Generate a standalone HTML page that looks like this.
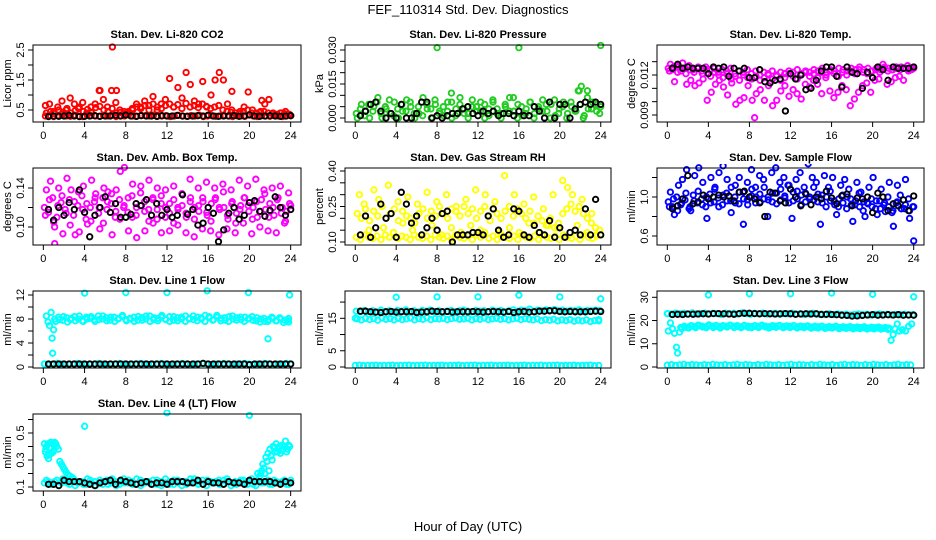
<!DOCTYPE html>
<html><head><meta charset="utf-8">
<style>
html,body{margin:0;padding:0;background:#fff;}
svg{display:block;font-family:"Liberation Sans",sans-serif;}
</style></head>
<body>
<svg id="chart" width="936" height="540" viewBox="0 0 936 540">
<text x="468" y="14" text-anchor="middle" font-size="13">FEF_110314  Std. Dev. Diagnostics</text>
<text x="468" y="531" text-anchor="middle" font-size="13">Hour of Day (UTC)</text>
</svg>
<script>
// ---------- data ----------
const xTicks = [0,4,8,12,16,20,24];
const xTickLabels = ["0","4","8","12","16","20","24"];

// CO2
const co2Band = [0.3,0.32,0.28,0.31,0.35,0.3,0.29,0.33,0.3,0.28,0.34,0.31,0.3,0.29,0.32,0.3,0.33,0.28,0.31,0.3,0.35,0.3,0.29,0.32,0.31,0.3,0.33,0.29,0.3,0.31,0.28,0.3,0.32,0.3,0.29,0.31,0.3,0.33,0.28,0.3,0.31,0.29,0.3,0.32,0.3,0.28,0.31,0.3,0.29,0.33,0.3,0.28,0.31,0.3,0.29,0.32,0.3,0.28,0.3,0.31];
const co2Mid = [0.4,0.45,0.38,0.5,0.42,0.55,0.4,0.48,0.6,0.45,0.52,0.4,0.58,0.62,0.5,0.45,0.55,0.4,0.42,0.38,0.45,0.5,0.6,0.55,0.65,0.5,0.7,0.6,0.55,0.65,0.7,0.6,0.68,0.55,0.72,0.6,0.65,0.58,0.7,0.62,0.55,0.6,0.65,0.5,0.45,0.42,0.4,0.38,0.45,0.5,0.4,0.38,0.42,0.45,0.4,0.38,0.35,0.4,0.38,0.36];
const co2Scatter = [0.65,0.7,0.45,0.6,0.8,0.5,0.9,0.7,0.55,0.75,0.4,0.6,0.7,1.15,0.85,0.6,1.15,0.75,0.5,0.45,0.4,0.55,0.7,0.6,0.8,0.65,0.95,0.5,0.7,0.85,1.55,0.6,1.25,0.9,1.75,1.35,0.8,0.7,1.45,0.6,1.0,1.5,1.75,1.5,0.7,0.5,0.4,0.45,0.6,1.1,0.5,0.4,0.45,0.7,0.85,0.4,0.35,0.4,0.45,0.35];
const co2OutX = [6.7,5.5,7.1,18.3,21.2];
const co2OutY = [2.6,1.15,1.15,1.12,0.82];
const co2Black = [0.28,0.3,0.29,0.3,0.32,0.3,0.28,0.29,0.3,0.31,0.29,0.3,0.3,0.32,0.3,0.33,0.3,0.29,0.31,0.3,0.3,0.29,0.31,0.3,0.3,0.32,0.3,0.29,0.3,0.31,0.3,0.33,0.3,0.29,0.3,0.3,0.31,0.29,0.3,0.34,0.3,0.29,0.3,0.31,0.3,0.29,0.3,0.31];

// Pressure
const pBand = [0.002,0.004,0.001,0.006,0.003,0.007,0.002,0.005,0.008,0.001,0.004,0.006,0.003,0.007,0.002,0.005,0.001,0.006,0.004,0.008,0.002,0.005,0.003,0.007,0.001,0.006,0.004,0.002,0.008,0.005,0.003,0.006,0.001,0.007,0.004,0.002,0.005,0.009,0.003,0.006,0.001,0.004,0.007,0.002,0.005,0.008,0.003,0.006,0.001,0.004,0.007,0.002,0.005,0.003,0.006,0.001,0.004,0.007,0.003,0.005];
const pBand2 = [0.0,0.006,0.003,0.0,0.005,0.009,0.0,0.004,0.002,0.007,0.0,0.003,0.008,0.005,0.0,0.002,0.009,0.004,0.0,0.006,0.003,0.001,0.007,0.0,0.004,0.009,0.002,0.0,0.005,0.003,0.007,0.0,0.004,0.008,0.002,0.0,0.006,0.003,0.009,0.0,0.005,0.002,0.007,0.0,0.004,0.003,0.006,0.0,0.008,0.002,0.005,0.0,0.007,0.003,0.012,0.0,0.009,0.004,0.006,0.002];
const pOutX = [8,16,24,21.8,22.1,22.7,9.4];
const pOutY = [0.031,0.031,0.032,0.012,0.014,0.012,0.011];
const pBlack = [0.001,0.003,0.006,0.007,0.003,0.0,0.002,0.0,0.006,0.0,0.0,0.002,0.007,0.007,0.0,0.001,0.0,0.001,0.002,0.002,0.004,0.005,0.002,0.001,0.003,0.002,0.003,0.001,0.002,0.002,0.001,0.003,0.001,0.001,0.005,0.003,0.0,0.007,0.0,0.006,0.006,0.0,0.004,0.006,0.007,0.006,0.007,0.006];

// Li-820 Temp
const tBand = [0.0125,0.0124,0.0126,0.0123,0.0125,0.0127,0.0124,0.0125,0.0123,0.0126,0.0124,0.0125,0.0122,0.0124,0.0123,0.0125,0.0121,0.0123,0.0122,0.0124,0.0121,0.0123,0.012,0.0122,0.0121,0.0123,0.012,0.0122,0.0121,0.0123,0.0122,0.0124,0.0121,0.0123,0.0122,0.0124,0.0123,0.0125,0.0122,0.0124,0.0123,0.0125,0.0124,0.0123,0.0125,0.0124,0.0126,0.0124,0.0125,0.0123,0.0125,0.0124,0.0126,0.0125,0.0124,0.0125,0.0126,0.0125,0.0124,0.0125];
const tBand2 = [0.0123,0.0126,0.0122,0.0125,0.0121,0.0124,0.0122,0.0126,0.0121,0.0124,0.0119,0.0122,0.012,0.0118,0.0121,0.0117,0.0119,0.0116,0.012,0.0118,0.0117,0.0119,0.0116,0.0118,0.012,0.0117,0.0119,0.0116,0.0118,0.0121,0.0119,0.0117,0.012,0.0122,0.0119,0.0121,0.0118,0.0122,0.012,0.0123,0.0121,0.0119,0.0122,0.012,0.0123,0.0121,0.0124,0.0122,0.0121,0.0123,0.0124,0.0122,0.0125,0.0123,0.0124,0.0126,0.0124,0.0125,0.0123,0.0125];
const tScatter = [0.0128,0.0115,0.0127,0.0129,0.0113,0.0116,0.0112,0.0114,0.0117,0.0101,0.0107,0.0113,0.0116,0.0111,0.0105,0.0114,0.0098,0.0101,0.0103,0.0112,0.0101,0.0106,0.0109,0.0101,0.0112,0.0097,0.0101,0.0108,0.0112,0.0104,0.0109,0.0106,0.0102,0.0113,0.0111,0.0116,0.0113,0.0106,0.0118,0.0108,0.0103,0.0107,0.0112,0.0109,0.0097,0.0102,0.0107,0.0112,0.0114,0.0107,0.0116,0.0117,0.0128,0.0113,0.0115,0.0118,0.0119,0.0116,0.0127,0.0124];
const tOutX = [8.5];
const tOutY = [0.0088];
const tBlack = [0.0125,0.0128,0.0125,0.0126,0.0125,0.0125,0.0125,0.0121,0.0126,0.0125,0.0126,0.0119,0.0125,0.0123,0.0125,0.0118,0.0118,0.0124,0.0115,0.0114,0.0116,0.0117,0.0093,0.0121,0.0117,0.012,0.0109,0.011,0.0116,0.0123,0.0126,0.0126,0.0119,0.0111,0.0126,0.0122,0.0121,0.011,0.0122,0.0118,0.0126,0.0124,0.0116,0.0126,0.0125,0.0125,0.0125,0.0126];

// Amb Box Temp
const aBand = [0.12,0.115,0.13,0.11,0.125,0.118,0.128,0.112,0.122,0.132,0.108,0.12,0.126,0.114,0.13,0.118,0.124,0.11,0.128,0.12,0.115,0.132,0.112,0.122,0.126,0.118,0.13,0.108,0.124,0.12,0.114,0.128,0.118,0.122,0.11,0.13,0.12,0.116,0.126,0.112,0.124,0.13,0.118,0.12,0.108,0.126,0.114,0.122,0.13,0.116,0.12,0.11,0.128,0.118,0.124,0.112,0.13,0.12,0.116,0.122];
const aBand2 = [0.112,0.128,0.105,0.122,0.132,0.114,0.102,0.126,0.136,0.118,0.124,0.106,0.13,0.12,0.104,0.126,0.134,0.116,0.108,0.122,0.13,0.11,0.12,0.135,0.116,0.106,0.128,0.118,0.132,0.11,0.124,0.104,0.12,0.134,0.114,0.126,0.108,0.122,0.13,0.115,0.106,0.128,0.12,0.136,0.112,0.124,0.104,0.118,0.13,0.122,0.108,0.126,0.116,0.134,0.11,0.12,0.128,0.114,0.106,0.124];
const aScatter = [0.138,0.147,0.1,0.14,0.093,0.15,0.138,0.092,0.095,0.142,0.103,0.148,0.134,0.098,0.14,0.136,0.092,0.138,0.157,0.161,0.096,0.144,0.089,0.142,0.096,0.148,0.104,0.14,0.094,0.138,0.096,0.142,0.102,0.134,0.094,0.149,0.09,0.14,0.098,0.146,0.096,0.14,0.092,0.144,0.098,0.138,0.094,0.148,0.104,0.142,0.093,0.149,0.1,0.138,0.096,0.14,0.094,0.142,0.104,0.135];
const aOutX = [1.1];
const aOutY = [0.083];
const aBlack = [0.118,0.107,0.12,0.112,0.125,0.118,0.138,0.115,0.09,0.112,0.12,0.131,0.115,0.124,0.11,0.11,0.113,0.124,0.122,0.128,0.112,0.124,0.112,0.118,0.11,0.112,0.133,0.113,0.118,0.102,0.104,0.12,0.114,0.085,0.097,0.114,0.12,0.108,0.112,0.125,0.127,0.116,0.111,0.117,0.131,0.12,0.112,0.118];

// Gas stream RH
const rLow = [0.12,0.11,0.13,0.12,0.115,0.125,0.11,0.13,0.12,0.14,0.115,0.125,0.12,0.11,0.13,0.12,0.115,0.125,0.11,0.13,0.12,0.115,0.125,0.11,0.13,0.12,0.115,0.125,0.11,0.13,0.12,0.14,0.115,0.125,0.11,0.13,0.12,0.115,0.125,0.11,0.13,0.12,0.115,0.125,0.11,0.13,0.12,0.115,0.125,0.11,0.13,0.12,0.115,0.125,0.11,0.13,0.12,0.115,0.125,0.13];
const rMid = [0.22,0.2,0.24,0.19,0.23,0.21,0.25,0.2,0.22,0.24,0.19,0.23,0.21,0.2,0.18,0.22,0.24,0.2,0.23,0.21,0.25,0.22,0.2,0.24,0.23,0.21,0.25,0.22,0.24,0.2,0.23,0.25,0.21,0.24,0.22,0.2,0.23,0.25,0.21,0.24,0.22,0.2,0.23,0.18,0.21,0.19,0.17,0.2,0.16,0.18,0.22,0.24,0.26,0.23,0.25,0.22,0.2,0.18,0.16,0.15];
const rScatter = [0.3,0.26,0.15,0.32,0.28,0.16,0.34,0.14,0.27,0.18,0.29,0.15,0.26,0.13,0.31,0.17,0.27,0.13,0.3,0.16,0.25,0.14,0.28,0.17,0.32,0.15,0.3,0.19,0.27,0.14,0.38,0.16,0.3,0.14,0.26,0.18,0.29,0.14,0.24,0.17,0.3,0.16,0.36,0.33,0.3,0.17,0.28,0.14,0.22,0.13];
const rBlack = [0.13,0.21,0.12,0.16,0.26,0.2,0.22,0.12,0.31,0.26,0.18,0.21,0.13,0.16,0.2,0.15,0.22,0.23,0.1,0.13,0.13,0.13,0.14,0.14,0.13,0.21,0.24,0.15,0.12,0.13,0.24,0.23,0.13,0.12,0.17,0.14,0.13,0.19,0.12,0.16,0.12,0.14,0.15,0.13,0.24,0.13,0.28,0.13];

// Sample flow
const sBand = [0.95,0.9,1.0,0.92,0.97,0.88,1.02,0.94,0.98,0.9,1.03,0.95,0.99,0.92,1.04,0.96,1.0,0.93,1.05,0.97,1.01,0.94,1.03,0.98,1.0,0.95,1.04,0.97,1.01,0.94,1.05,0.98,1.02,0.95,1.0,0.97,1.03,0.94,1.0,0.96,0.92,0.98,0.94,1.0,0.92,0.96,0.9,0.95,0.93,0.9,0.96,0.88,0.94,0.9,0.86,0.95,0.88,0.92,0.86,0.9];
const sBand2 = [0.9,0.98,0.86,0.94,1.04,0.9,0.96,1.06,0.92,1.0,0.94,1.08,0.9,1.02,0.96,1.1,0.94,1.05,0.98,0.92,1.08,1.0,0.95,1.1,0.97,1.04,0.93,1.08,0.99,1.12,0.96,1.06,0.92,1.04,0.98,1.1,0.95,1.02,0.9,1.06,0.96,0.9,1.02,0.88,0.98,0.92,1.04,0.86,0.94,0.98,0.88,0.96,0.92,1.0,0.84,0.94,1.02,0.88,0.98,0.9];
const sScatter = [1.05,0.82,1.12,1.18,1.28,0.86,1.22,1.3,1.15,0.78,1.2,1.1,1.25,1.32,1.18,0.84,1.12,1.2,0.72,1.15,1.28,1.1,1.22,1.18,0.8,1.25,1.3,1.15,1.2,1.12,0.78,1.18,1.25,1.1,1.34,1.2,1.15,0.72,1.22,1.1,1.2,0.82,1.12,1.18,1.08,0.75,1.15,1.05,0.8,1.1,1.2,0.82,1.08,0.85,1.15,0.7,1.12,0.88,1.18,0.78];
const sOutX = [24];
const sOutY = [0.55];
const sBlack = [0.88,0.91,0.98,1.22,0.93,0.95,1.02,0.98,1.0,1.02,1.0,1.01,0.96,1.05,1.06,1.0,0.98,0.94,0.8,1.05,1.04,0.96,0.94,1.08,1.0,0.91,1.03,0.92,1.0,0.98,1.06,0.99,0.93,1.01,1.03,0.91,0.99,0.98,1.0,0.84,1.04,1.0,0.86,0.93,0.91,0.97,0.86,1.01];

// Line 1 flow
const l1Band = [8.0,8.3,7.8,8.2,7.9,8.4,8.0,7.7,8.3,8.1,7.9,8.5,8.0,8.2,7.8,8.3,8.0,8.4,7.9,8.1,8.3,7.8,8.2,8.0,8.5,7.9,8.1,8.3,8.0,8.4,7.8,8.2,8.0,8.5,8.1,7.9,8.3,8.0,8.6,8.2,7.9,8.3,8.1,7.8,8.4,8.0,8.2,7.9,8.3,8.1,7.8,8.2,8.0,7.6,7.9,8.1,7.7,8.0,7.8,8.1];
const l1Band2 = [7.6,7.9,8.4,7.5,8.1,7.7,8.5,7.6,8.0,8.4,7.6,7.9,8.5,7.7,8.3,7.6,8.1,8.6,7.7,8.0,7.6,8.4,7.8,8.5,7.6,8.2,7.7,8.6,7.9,7.6,8.4,7.7,8.3,7.6,8.0,8.5,7.7,8.2,7.6,8.4,7.8,8.6,7.7,8.2,7.6,8.5,7.8,8.3,7.6,8.0,8.4,7.7,7.5,8.1,7.6,8.3,7.7,8.2,7.4,7.8];
const l1Low = [0.5,0.4,0.5,0.6,0.5,0.4,0.5,0.5,0.6,0.5,0.4,0.5,0.5,0.6,0.5,0.4,0.5,0.5,0.6,0.5,0.4,0.5,0.5,0.6,0.5,0.4,0.5,0.5,0.6,0.5,0.4,0.5,0.5,0.6,0.5,0.4,0.5,0.5,0.6,0.5,0.4,0.5,0.5,0.6,0.5,0.4,0.5,0.5,0.6,0.5,0.4,0.5,0.5,0.6,0.5,0.4,0.5,0.5,0.6,0.5];
const l1OutX = [4,8,12,15.9,19.9,23.9,0.3,0.45,0.6,0.75,0.85,1.0,21.8,23.8];
const l1OutY = [12.3,12.4,12.4,12.7,12.4,12.0,8.5,7.5,6.9,9.1,4.8,6.2,4.7,7.5];
const l1OutX2 = [0.9,0.1];
const l1OutY2 = [2.3,0.5];
const l1Black = [0.5,0.5,0.5,0.5,0.5,0.5,0.5,0.5,0.5,0.5,0.5,0.5,0.5,0.5,0.5,0.5,0.5,0.5,0.5,0.5,0.5,0.5,0.5,0.5,0.5,0.5,0.5,0.5,0.5,0.5,0.6,0.5,0.5,0.5,0.5,0.5,0.5,0.5,0.5,0.4,0.5,0.5,0.5,0.5,0.5,0.5,0.5,0.5];

// Line 2 flow
const l2Band = [14.8,14.5,15.0,14.6,14.9,14.4,15.1,14.7,14.9,14.5,15.0,14.6,14.8,15.1,14.5,14.9,14.7,15.2,14.6,14.9,14.8,15.0,14.6,14.9,15.1,14.7,14.8,15.0,14.5,14.9,14.7,15.1,14.6,14.8,15.0,14.7,14.9,14.5,14.8,15.0,14.6,14.9,14.7,14.5,14.8,14.3,14.6,14.4,14.7,14.2,14.5,14.3,14.6,14.1,14.4,14.2,14.5,14.0,14.3,14.6];
const l2Upper = [17.2,17.0,17.4,17.1,17.3,16.9,17.5,17.1,17.3,17.0,17.4,17.2,17.6,17.1,17.3,17.0,17.4,17.2,17.5,17.1,17.3,17.0,17.2,17.4,17.1,17.3,17.5,17.2,17.0,17.4,17.2,17.3,17.1,17.5,17.2,17.4,17.0,17.3,17.6,17.2,17.5,17.3,17.8,17.2,17.5,17.3,17.6,17.4,17.7,17.3,17.5,17.2,17.4,17.3,17.6,17.2,17.4,17.3,17.5,17.4];
const l2Low = [0.5,0.6,0.4,0.5,0.5,0.6,0.4,0.5,0.5,0.6,0.4,0.5,0.5,0.6,0.4,0.5,0.5,0.6,0.4,0.5,0.5,0.6,0.4,0.5,0.5,0.6,0.4,0.5,0.5,0.6,0.4,0.5,0.5,0.6,0.4,0.5,0.5,0.6,0.4,0.5,0.5,0.6,0.4,0.5,0.5,0.6,0.4,0.5,0.5,0.6,0.4,0.5,0.5,0.6,0.4,0.5,0.5,0.6,0.4,0.5];
const l2OutX = [4,8,12,16,20,24,0,23.8];
const l2OutY = [21.5,21.6,21.6,22.1,21.6,21.0,15.0,14.2];
const l2Black = [17.2,17.2,17.0,16.9,16.8,17.0,17.1,16.9,17.0,17.0,17.1,16.8,16.9,17.0,17.2,17.1,17.0,17.1,16.9,17.0,17.0,17.0,17.1,17.0,16.9,17.0,17.1,17.0,16.9,17.1,16.8,17.0,17.1,16.9,17.0,17.2,17.2,17.3,17.3,17.1,17.0,17.1,17.0,17.0,17.0,17.1,17.2,17.1];

// Line 3 flow
const l3Top = [23.0,22.8,23.2,22.9,23.1,22.7,23.3,22.9,23.0,23.2,22.8,23.1,23.0,22.6,23.2,22.9,23.1,22.8,23.3,23.0,22.7,23.1,22.9,23.2,22.8,23.0,23.1,22.7,23.0,22.9,23.2,22.8,23.0,22.6,22.9,23.1,22.7,22.8,22.5,22.9,22.6,22.8,22.5,22.7,22.4,22.6,22.8,22.5,22.7,22.4,22.6,22.8,22.5,22.7,22.4,22.6,22.5,22.7,22.4,22.6];
const l3Mid = [17.0,17.5,17.2,17.8,17.4,18.0,17.6,17.3,18.1,17.5,17.9,17.4,17.8,17.6,18.0,17.5,17.8,17.3,17.9,17.6,17.4,17.8,17.5,18.0,17.6,17.3,17.8,17.5,17.9,17.4,17.7,17.5,17.8,17.3,17.6,17.4,17.7,17.2,17.5,17.3,17.6,17.1,17.4,17.2,17.5,17.0,17.3,17.1,17.4,16.9,17.2,17.0,17.3,16.8,17.1,16.9,17.2,16.8,17.0,16.7];
const l3Mid2 = [16.5,17.1,16.8,17.6,16.9,17.8,17.2,16.9,17.7,17.0,17.5,16.8,17.6,17.2,17.9,17.0,17.4,16.9,17.6,17.1,16.9,17.5,17.0,17.7,17.2,16.8,17.4,17.1,17.6,16.9,17.3,17.0,17.5,16.8,17.2,16.9,17.4,16.7,17.1,16.8,17.3,16.6,17.0,16.8,17.2,16.5,16.9,16.6,17.0,16.4,16.8,16.5,16.9,16.3,16.7,16.4,16.8,16.3,16.6,16.2];
const l3Low = [0.8,1.0,0.7,0.9,1.1,0.8,1.0,0.9,0.7,1.0,0.8,1.1,0.9,0.8,1.0,0.7,0.9,1.1,0.8,1.0,0.9,0.7,1.0,0.8,1.1,0.9,0.8,1.0,0.7,0.9,1.1,0.8,1.0,0.9,0.7,1.0,0.8,1.1,0.9,0.8,1.0,0.7,0.9,1.1,0.8,1.0,0.9,0.7,1.0,0.8,1.1,0.9,0.8,1.0,0.7,0.9,1.1,0.8,1.0,0.9];
const l3OutX = [4,8,12,16,20,24,0.1,0.3,0.5,0.7,0.9,1.0,1.2,21.8,22.0,22.2,22.4,22.6,22.9,23.2,23.5,23.8,0.05];
const l3OutY = [31,31.5,31.5,31.8,31.3,30.2,15.5,19.0,16.5,14.5,8.5,6.0,15.0,11.5,14.0,16.5,18.5,15.5,16.0,15.5,17.5,18.5,23.0];
const l3Black = [22.6,22.7,22.6,22.8,22.7,22.8,22.9,22.8,23.0,23.0,22.9,22.8,22.7,23.0,23.1,23.1,23.0,22.9,23.0,22.9,22.8,22.9,23.0,22.9,22.7,22.8,22.9,22.8,22.9,22.6,22.7,22.6,22.5,22.3,22.2,21.9,22.0,22.2,22.4,22.5,22.3,22.4,22.5,22.4,22.5,22.3,22.4,22.3];

// Line 4 (LT) flow
const l4Band = [0.13,0.14,0.12,0.15,0.13,0.14,0.12,0.16,0.13,0.14,0.12,0.15,0.14,0.13,0.12,0.15,0.13,0.14,0.12,0.16,0.13,0.14,0.12,0.15,0.13,0.14,0.12,0.15,0.14,0.13,0.12,0.15,0.13,0.14,0.12,0.16,0.13,0.14,0.12,0.15,0.13,0.14,0.12,0.15,0.14,0.13,0.12,0.15,0.13,0.14,0.12,0.15,0.13,0.14,0.12,0.15,0.13,0.14,0.12,0.15];
const l4Band2 = [0.15,0.12,0.14,0.11,0.16,0.13,0.15,0.11,0.14,0.12,0.16,0.13,0.11,0.15,0.14,0.12,0.16,0.11,0.14,0.13,0.15,0.12,0.16,0.11,0.14,0.13,0.15,0.12,0.11,0.16,0.14,0.12,0.15,0.11,0.14,0.13,0.16,0.12,0.15,0.11,0.14,0.13,0.15,0.12,0.16,0.11,0.14,0.13,0.15,0.12,0.16,0.11,0.14,0.13,0.15,0.12,0.14,0.13,0.15,0.12];
const l4EarlyX = [0.1,0.2,0.3,0.35,0.45,0.5,0.6,0.7,0.8,0.9,1.0,1.1,1.2,1.3,0.25,0.55,0.75,0.95,1.15,1.45,1.6,1.75,1.9,2.05,2.2,2.4,2.6,2.8];
const l4EarlyY = [0.42,0.36,0.4,0.33,0.42,0.31,0.39,0.43,0.35,0.42,0.37,0.43,0.42,0.4,0.38,0.34,0.43,0.36,0.42,0.38,0.29,0.27,0.25,0.23,0.21,0.19,0.18,0.17];
const l4LateX = [20.8,21.0,21.2,21.3,21.5,21.6,21.8,21.9,22.0,22.2,22.3,22.5,22.6,22.8,22.9,23.0,23.2,23.3,23.5,23.6,23.8,23.9,21.1,21.4,21.7,22.1,22.4,22.7,23.1,23.4,23.7];
const l4LateY = [0.2,0.18,0.22,0.27,0.2,0.32,0.35,0.22,0.38,0.3,0.4,0.36,0.42,0.38,0.4,0.35,0.41,0.38,0.44,0.36,0.41,0.4,0.2,0.24,0.29,0.33,0.39,0.36,0.37,0.4,0.38];
const l4OutX = [4,12,20];
const l4OutY = [0.55,0.65,0.63];
const l4Black = [0.12,0.12,0.11,0.15,0.14,0.14,0.14,0.13,0.12,0.11,0.13,0.14,0.15,0.12,0.15,0.14,0.13,0.12,0.13,0.14,0.12,0.13,0.13,0.12,0.14,0.14,0.14,0.13,0.13,0.15,0.12,0.14,0.13,0.13,0.12,0.14,0.13,0.13,0.12,0.15,0.14,0.14,0.14,0.14,0.13,0.12,0.14,0.13];

// ---------- layout ----------
const svg = document.getElementById('chart');
const NS = 'http://www.w3.org/2000/svg';
const COLS = [[33,301],[345,611],[657,924]];
const ROWS = [[45,122],[168,245],[291,368],[414,491]];
function mk(tag, attrs, parent){ const e=document.createElementNS(NS,tag); for(const k in attrs) e.setAttribute(k,attrs[k]); (parent||svg).appendChild(e); return e; }
function evenX(n,a,b){ const xs=[]; for(let i=0;i<n;i++) xs.push(a+(b-a)*i/(n-1)); return xs; }
const halfHours = evenX(48,0.5,24);

const panels = [
 {id:'co2',t:'Stan. Dev. Li-820 CO2',yl:'Licor ppm',c:0,r:0,ya:[0.5,110,2.5,50],yt:[0.5,1.0,1.5,2.0,2.5],ytl:['0.5','','1.5','','2.5'],
  s:[{v:co2Band,a:0.2,b:24,col:'#ff0000'},{v:co2Mid,a:0.3,b:23.8,col:'#ff0000'},{v:co2Scatter,a:0.2,b:23.9,col:'#ff0000'},{x:co2OutX,v:co2OutY,col:'#ff0000'},{v:co2Black,x:halfHours,col:'#000'}]},
 {id:'pressure',t:'Stan. Dev. Li-820 Pressure',yl:'kPa',c:1,r:0,ya:[0,118,0.03,50],yt:[0,0.005,0.01,0.015,0.02,0.025,0.03],ytl:['0.000','','','0.015','','','0.030'],
  s:[{v:pBand,a:0.1,b:24,col:'#22cc22'},{v:pBand2,a:0.2,b:23.9,col:'#22cc22'},{x:pOutX,v:pOutY,col:'#22cc22'},{v:pBlack,x:halfHours,col:'#000'}]},
 {id:'li820-temp',t:'Stan. Dev. Li-820 Temp.',yl:'degrees C',c:2,r:0,ya:[0.009,115,0.012,75],yt:[0.009,0.010,0.011,0.012,0.013],ytl:['0.009','','','0.012',''],
  s:[{v:tBand,a:0.1,b:24,col:'#ff00ff'},{v:tBand2,a:0.2,b:23.9,col:'#ff00ff'},{v:tScatter,a:0.3,b:23.8,col:'#ff00ff'},{x:tOutX,v:tOutY,col:'#ff00ff'},{v:tBlack,x:halfHours,col:'#000'}]},
 {id:'amb-box-temp',t:'Stan. Dev. Amb. Box Temp.',yl:'degrees C',c:0,r:1,ya:[0.10,227,0.14,188],yt:[0.10,0.12,0.14],ytl:['0.10','','0.14'],
  s:[{v:aBand,a:0.1,b:24,col:'#ff00ff'},{v:aBand2,a:0.2,b:23.9,col:'#ff00ff'},{v:aScatter,a:0.3,b:23.8,col:'#ff00ff'},{x:aOutX,v:aOutY,col:'#ff00ff'},{v:aBlack,x:halfHours,col:'#000'}]},
 {id:'gas-stream-rh',t:'Stan. Dev. Gas Stream RH',yl:'percent',c:1,r:1,ya:[0.10,242,0.40,171],yt:[0.10,0.15,0.20,0.25,0.30,0.35,0.40],ytl:['0.10','','','0.25','','','0.40'],
  s:[{v:rLow,a:0.1,b:24,col:'#ffff00'},{v:rMid,a:0.2,b:23.9,col:'#ffff00'},{v:rScatter,a:0.4,b:23.6,col:'#ffff00'},{v:rBlack,x:halfHours,col:'#000'}]},
 {id:'sample-flow',t:'Stan. Dev. Sample Flow',yl:'ml/min',c:2,r:1,ya:[0.6,236,1.0,197],yt:[0.6,0.8,1.0,1.2],ytl:['0.6','','1.0',''],
  s:[{v:sBand,a:0.1,b:24,col:'#0000ff'},{v:sBand2,a:0.2,b:23.9,col:'#0000ff'},{v:sScatter,a:0.3,b:23.6,col:'#0000ff'},{x:sOutX,v:sOutY,col:'#0000ff'},{v:sBlack,x:halfHours,col:'#000'}]},
 {id:'line1-flow',t:'Stan. Dev. Line 1 Flow',yl:'ml/min',c:0,r:2,ya:[0,367,12,295],yt:[0,2,4,6,8,10,12],ytl:['0','','4','','8','','12'],
  s:[{v:l1Band,a:1.1,b:23.8,col:'#00ffff'},{v:l1Band2,a:1.2,b:23.7,col:'#00ffff'},{v:l1Low,a:0.1,b:24,col:'#00ffff'},{x:l1OutX,v:l1OutY,col:'#00ffff'},{x:l1OutX2,v:l1OutY2,col:'#00ffff'},{v:l1Black,x:halfHours,col:'#000'}]},
 {id:'line2-flow',t:'Stan. Dev. Line 2 Flow',yl:'ml/min',c:1,r:2,ya:[0,367,15,318.3],yt:[0,5,10,15,20],ytl:['0','5','','15',''],
  s:[{v:l2Band,a:0.2,b:23.8,col:'#00ffff'},{v:l2Upper,a:0.1,b:23.9,col:'#00ffff'},{v:l2Low,a:0,b:23.8,col:'#00ffff'},{x:l2OutX,v:l2OutY,col:'#00ffff'},{v:l2Black,x:halfHours,col:'#000'}]},
 {id:'line3-flow',t:'Stan. Dev. Line 3 Flow',yl:'ml/min',c:2,r:2,ya:[0,367,30,297.3],yt:[0,10,20,30],ytl:['0','10','20','30'],
  s:[{v:l3Top,a:0,b:23.9,col:'#00ffff'},{v:l3Mid,a:1.3,b:21.6,col:'#00ffff'},{v:l3Mid2,a:1.4,b:21.5,col:'#00ffff'},{v:l3Low,a:0,b:23.7,col:'#00ffff'},{x:l3OutX,v:l3OutY,col:'#00ffff'},{v:l3Black,x:halfHours,col:'#000'}]},
 {id:'line4-flow',t:'Stan. Dev. Line 4 (LT) Flow',yl:'ml/min',c:0,r:3,ya:[0.1,487,0.5,433],yt:[0.1,0.2,0.3,0.4,0.5,0.6],ytl:['0.1','','0.3','','0.5',''],
  s:[{v:l4Band,a:0.1,b:24,col:'#00ffff'},{v:l4Band2,a:0.3,b:23.8,col:'#00ffff'},{x:l4EarlyX,v:l4EarlyY,col:'#00ffff'},{x:l4LateX,v:l4LateY,col:'#00ffff'},{x:l4OutX,v:l4OutY,col:'#00ffff'},{v:l4Black,x:halfHours,col:'#000'}]}
];

panels.forEach(p=>{
  const [x0,x1]=COLS[p.c], [y0,y1]=ROWS[p.r];
  const g = mk('g',{});
  
  
  const pad=(x1-x0)*0.0386;
  const xs = h => x0+pad + (h/24)*((x1-x0)-2*pad);
  const ys = v => p.ya[1] + (v-p.ya[0])*(p.ya[3]-p.ya[1])/(p.ya[2]-p.ya[0]);
  const title = mk('text',{x:(x0+x1)/2,y:y0-7,'text-anchor':'middle','font-size':'11','font-weight':'bold'},g);
  title.textContent = p.t;
  
  
  const pts = mk('g',{fill:'none','stroke-width':'1.9'},g);
  
  
  const clip = 'clip-'+p.id;
  const cp = mk('clipPath',{id:clip},g); mk('rect',{x:x0,y:y0-4,width:x1-x0,height:y1-y0+4},cp);
  pts.setAttribute('clip-path','url(#'+clip+')');
  p.s.forEach(se=>{
    const hx = se.x || evenX(se.v.length, se.a, se.b);
    se.v.forEach((v,i)=>{
      const c = mk('circle',{cx:xs(hx[i]).toFixed(1),cy:ys(v).toFixed(1),r:'2.7',stroke:se.col},pts);
      
      
    });
  });
  const box = mk('rect',{x:x0,y:y0,width:x1-x0,height:y1-y0,fill:'none',stroke:'#000','stroke-width':'1'},g);
  
  
  const xa = mk('g',{'font-size':'11'},g);
  
  
  xTicks.forEach((t,i)=>{
    const X = xs(t);
    mk('line',{x1:X,x2:X,y1:y1,y2:y1+5,stroke:'#000'},xa);
    const tx = mk('text',{x:X,y:y1+17,'text-anchor':'middle'},xa);
    tx.textContent = xTickLabels[i];
  });
  const ya = mk('g',{'font-size':'11'},g);
  
  
  p.yt.forEach((t,i)=>{
    const Y = ys(t);
    if (Y < y0-1 || Y > y1+1) return;
    mk('line',{x1:x0-5,x2:x0,y1:Y,y2:Y,stroke:'#000'},ya);
    if (p.ytl[i]) {
      const tx = mk('text',{x:x0-9,y:Y,'text-anchor':'middle',transform:`rotate(-90 ${x0-9} ${Y})`},ya);
      tx.textContent = p.ytl[i];
    }
  });
  const yl = mk('text',{x:x0-22,y:(y0+y1)/2,'text-anchor':'middle','font-size':'11',transform:`rotate(-90 ${x0-22} ${(y0+y1)/2})`},g);
  yl.textContent = p.yl;
  
  
});
</script>
</body></html>
